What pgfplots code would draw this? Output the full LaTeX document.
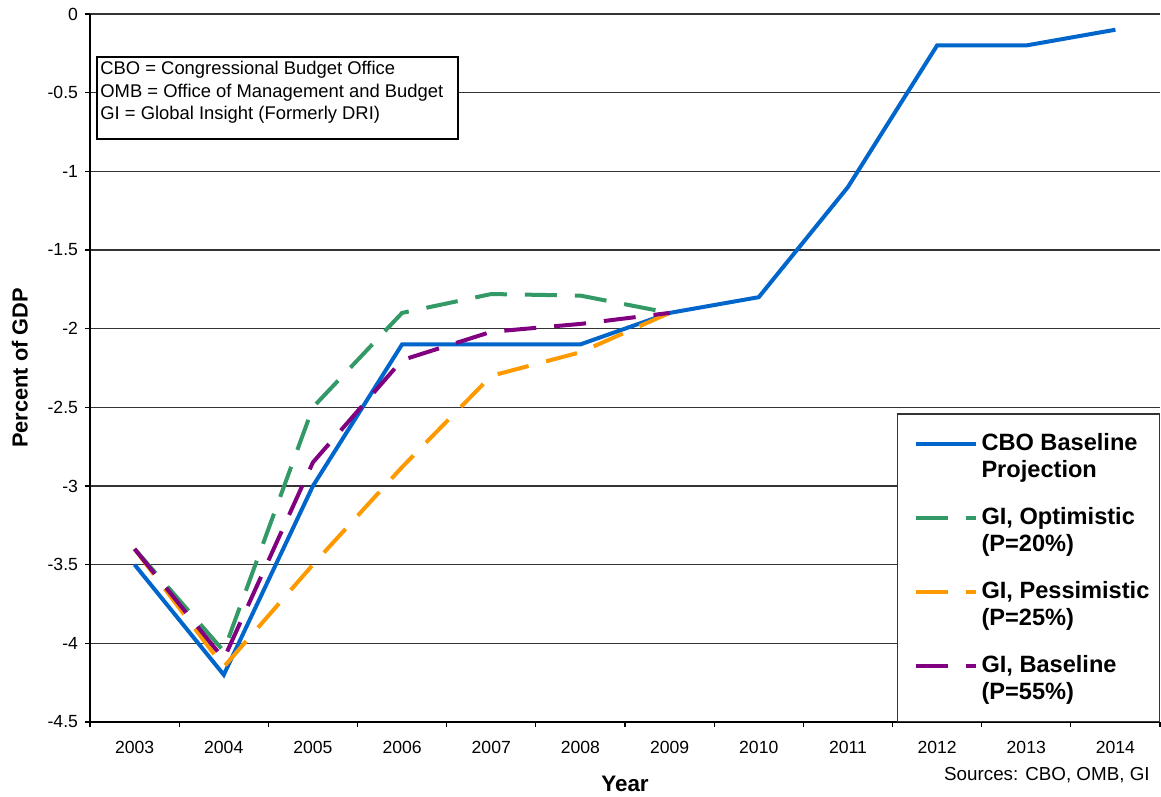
\documentclass[border=0pt]{standalone}
\usepackage{fontspec}
\setmainfont{Liberation Sans}
\usepackage{pgfplots}
\pgfplotsset{compat=1.18}
\definecolor{cboblue}{HTML}{0066CC}
\definecolor{giopt}{HTML}{339966}
\definecolor{gipes}{HTML}{FF9900}
\definecolor{gibase}{HTML}{800080}
\begin{document}
\begin{tikzpicture}
\begin{axis}[
  name=ax,
  scale only axis,
  width=535pt, height=354pt,
  xmin=-0.5, xmax=11.5,
  ymin=-4.5, ymax=0,
  axis x line*=bottom, axis y line*=left,
  axis line style={black, line width=0.7pt},
  xtick={0,...,11},
  xticklabels={2003,2004,2005,2006,2007,2008,2009,2010,2011,2012,2013,2014},
  major x tick style={draw=none},
  minor xtick={-0.5,0.5,...,11.5},
  ytick={-4.5,-4,...,0},
  yticklabels={-4.5,-4,-3.5,-3,-2.5,-2,-1.5,-1,-0.5,0},
  tick align=outside,
  major tick length=2.5pt, minor tick length=2.5pt,
  tick style={black, line width=0.6pt},
  ymajorgrids,
  grid style={black!80, line width=0.6pt},
  ticklabel style={font=\fontsize{8.8}{10}\selectfont},
  xticklabel style={yshift=-3.5pt},
  xlabel={\textbf{Year}},
  xlabel style={font=\fontsize{11.2}{13}\selectfont, yshift=-4.5pt},
  ylabel={\textbf{Percent of GDP}},
  ylabel style={font=\fontsize{10.9}{12}\selectfont, yshift=3pt},
  legend image code/.code={
    \path[draw=none] (-6pt,-6.75pt) rectangle (0pt,6.75pt);
    \draw[#1] (0pt,6.25pt) -- (30pt,6.25pt);},
  legend cell align=left,
  legend style={at={(1,0)}, anchor=south east, draw=black!80, line width=0.6pt,
    font=\bfseries\fontsize{11.8}{13.5}\selectfont, cells={align=left},
    row sep=9.5pt, inner xsep=3pt, inner ysep=7.5pt},
]
\addplot[cboblue, line width=2pt] coordinates {
  (0,-3.5) (1,-4.2) (2,-3.0) (3,-2.1) (4,-2.1) (5,-2.1)
  (6,-1.9) (7,-1.8) (8,-1.1) (9,-0.2) (10,-0.2) (11,-0.1)
};
\addlegendentry{CBO Baseline\\Projection}
\addplot[giopt, line width=2pt, dash pattern=on 16pt off 9pt] coordinates {
  (0,-3.4) (1,-4.05) (2,-2.5) (3,-1.9) (4,-1.78) (5,-1.79) (6,-1.9)
};
\addlegendentry{GI, Optimistic\\(P=20\%)}
\addplot[gipes, line width=2pt, dash pattern=on 16pt off 9pt] coordinates {
  (0,-3.4) (1,-4.15) (2,-3.5) (3,-2.88) (4,-2.3) (5,-2.15) (6,-1.9)
};
\addlegendentry{GI, Pessimistic\\(P=25\%)}
\addplot[gibase, line width=2pt, dash pattern=on 16pt off 9pt] coordinates {
  (0,-3.4) (1,-4.1) (2,-2.85) (3,-2.2) (4,-2.02) (5,-1.97) (6,-1.9)
};
\addlegendentry{GI, Baseline\\(P=55\%)}
\end{axis}
\draw[black, line width=0.6pt, fill=white]
  ([shift={(3.5pt,-21.5pt)}]ax.north west) rectangle ([shift={(184pt,-62.5pt)}]ax.north west);
\node[anchor=north west, align=left, inner sep=0pt, font=\fontsize{9.2}{11.25}\selectfont]
  at ([shift={(5pt,-23.5pt)}]ax.north west)
  {CBO = Congressional Budget Office\\OMB = Office of Management and Budget\\GI = Global Insight (Formerly DRI)};
\node[anchor=east, inner sep=0pt, font=\fontsize{9.4}{11}\selectfont]
  at ([shift={(-5pt,-26.5pt)}]ax.south east) {Sources: CBO, OMB, GI};
\pgfresetboundingbox
\path[use as bounding box] ([shift={(-45pt,-37.5pt)}]ax.south west)
  rectangle ([shift={(0.5pt,7pt)}]ax.north east);
\end{tikzpicture}
\end{document}
